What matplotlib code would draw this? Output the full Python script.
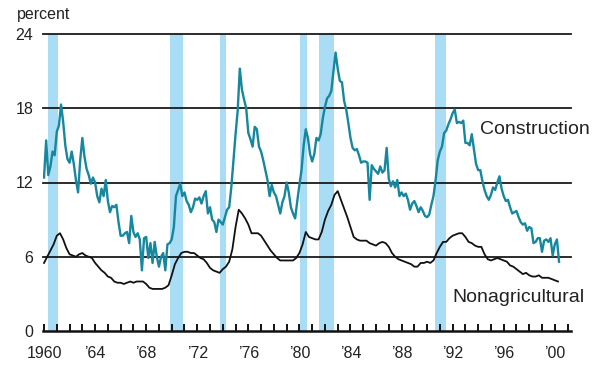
import numpy as np
import matplotlib
matplotlib.use("Agg")
import matplotlib.pyplot as plt

plt.rcParams['font.family'] = ['Liberation Sans', 'DejaVu Sans']

# construction unemployment rate, every two months from Jan 1960
construction = [
    12.4, 15.4, 12.6, 13.3, 14.5, 14.2, 16.1, 16.6, 18.3, 16.9, 15.0, 13.9,
    13.6, 14.5, 13.5, 12.2, 11.2, 13.8, 15.6, 14.1, 13.1, 12.6, 11.9, 12.4,
    12.0, 10.9, 10.4, 11.5, 10.9, 12.2, 10.5, 9.6, 10.1, 10.0, 10.2, 8.8,
    7.7, 7.7, 7.9, 8.0, 7.1, 9.3, 8.0, 7.6, 7.9, 7.4, 4.9, 7.5,
    7.6, 5.9, 7.1, 5.5, 7.2, 6.0, 5.2, 6.0, 6.3, 4.9, 7.0, 7.1,
    7.4, 8.4, 10.9, 11.4, 11.9, 10.9, 11.2, 10.5, 10.2, 9.6, 10.0, 10.7,
    10.6, 10.8, 10.3, 10.9, 11.3, 9.5, 10.0, 9.0, 8.8, 8.0, 9.0, 8.8,
    8.6, 9.2, 9.8, 10.0, 11.6, 13.8, 15.9, 17.8, 21.2, 19.5, 18.7, 18.0,
    16.0, 15.5, 14.9, 16.5, 16.3, 14.9, 14.5, 13.8, 13.0, 12.2, 10.9, 11.8,
    11.2, 10.9, 10.2, 9.5, 10.4, 10.9, 12.0, 11.2, 10.0, 9.5, 9.1, 10.5,
    11.8, 13.0, 15.0, 16.3, 15.6, 14.3, 13.7, 14.3, 15.6, 15.4, 15.9, 17.2,
    18.1, 18.8, 19.0, 19.4, 21.0, 22.5, 21.2, 20.2, 20.1, 18.6, 17.9, 16.8,
    15.6, 14.8, 14.6, 14.7, 14.2, 13.6, 13.7, 13.7, 13.6, 10.6, 13.4, 13.1,
    12.9, 12.7, 13.3, 12.8, 13.0, 14.8, 12.3, 11.7, 12.1, 11.6, 12.2, 10.9,
    11.2, 10.9, 11.1, 10.6, 9.8, 10.3, 10.5, 10.1, 9.6, 10.0, 9.7, 9.3,
    9.2, 9.4, 10.2, 10.9, 12.2, 13.8, 14.5, 14.9, 16.0, 16.2, 16.7, 17.1,
    17.6, 17.9, 16.8, 16.9, 16.8, 17.0, 15.2, 15.2, 15.0, 15.9, 14.7, 13.5,
    13.0, 13.0, 12.1, 11.4, 10.9, 10.6, 11.0, 11.6, 11.4, 12.0, 12.5, 11.5,
    10.9, 10.5, 10.6, 10.0, 9.5, 9.6, 9.7, 9.2, 8.8, 8.6, 8.7, 8.1,
    8.4, 8.3, 7.1, 7.2, 7.5, 7.5, 6.4, 7.3, 7.4, 7.2, 7.5, 6.1,
    7.0, 7.4, 5.6,
]

# nonagricultural unemployment rate, quarterly from 1960
nonag = [
    5.5, 6.0, 6.5, 7.0, 7.7, 7.9, 7.4, 6.7, 6.2, 6.1, 6.0, 6.2,
    6.3, 6.1, 6.0, 5.9, 5.5, 5.2, 4.9, 4.7, 4.4, 4.3, 4.0, 3.9,
    3.9, 3.8, 3.9, 4.0, 3.9, 4.0, 4.0, 4.0, 3.8, 3.5, 3.4, 3.4,
    3.4, 3.4, 3.5, 3.7, 4.5, 5.4, 5.9, 6.3, 6.4, 6.4, 6.3, 6.3,
    6.1, 5.9, 5.8, 5.5, 5.1, 4.9, 4.8, 4.7, 5.0, 5.2, 5.6, 6.6,
    8.4, 9.8, 9.5, 9.1, 8.6, 7.9, 7.9, 7.9, 7.7, 7.3, 6.9, 6.5,
    6.2, 5.9, 5.7, 5.7, 5.7, 5.7, 5.7, 5.9, 6.3, 7.0, 8.0, 7.6,
    7.5, 7.4, 7.4, 8.0, 9.0, 9.7, 10.2, 11.0, 11.3, 10.6, 9.9, 9.2,
    8.4, 7.6, 7.4, 7.3, 7.3, 7.3, 7.1, 7.0, 6.9, 7.1, 7.2, 7.1,
    6.8, 6.3, 6.0, 5.8, 5.7, 5.6, 5.5, 5.4, 5.2, 5.2, 5.5, 5.5,
    5.6, 5.5, 5.7, 6.3, 6.8, 7.2, 7.2, 7.5, 7.7, 7.8, 7.9, 7.9,
    7.6, 7.2, 7.1, 6.9, 6.8, 6.8, 6.2, 5.8, 5.7, 5.8, 5.9, 5.8,
    5.7, 5.6, 5.3, 5.2, 5.0, 4.8, 4.6, 4.7, 4.5, 4.4, 4.4, 4.5,
    4.3, 4.3, 4.3, 4.2, 4.1, 4.0,
]

# recessions (shaded)
rec_start = [1960.33, 1969.87, 1973.8, 1980.05, 1981.53, 1990.62]
rec_end = [1961.12, 1970.86, 1974.25, 1980.57, 1982.73, 1991.45]

yticks = [0, 6, 12, 18, 24]

con_years = 1960 + np.arange(len(construction)) / 6
non_years = 1960 + np.arange(len(nonag)) / 4

fig = plt.figure(figsize=(5.99, 3.71), dpi=100)
ax = fig.add_axes([43 / 599, 1 - 331 / 371, 528 / 599, 297 / 371])

for s, e in zip(rec_start, rec_end):
    ax.axvspan(s, e, color='#a9dcf5', lw=0, zorder=1)

for y in yticks[1:]:
    ax.axhline(y, color='#1a1a1a', lw=1.3, zorder=1.5, clip_on=False)

ax.plot(con_years, construction, color='#15879f', lw=1.7, zorder=3)
ax.plot(non_years, nonag, color='#111111', lw=1.3, zorder=3)

ax.set_xlim(1959.92, 2001.27)
ax.set_ylim(0, 24)

years = list(range(1960, 2002))
labels = []
for yr in years:
    if yr == 1960:
        labels.append('1960')
    elif yr % 4 == 0:
        labels.append('\u2019' + str(yr)[2:])
    else:
        labels.append('')
ax.set_xticks(years)
ax.set_xticklabels(labels, fontsize=11.5, color='#222222')
ax.tick_params(axis='x', direction='in', length=5, width=1.4, pad=11, color='#111111')

ax.set_yticks(yticks)
ax.set_yticklabels([str(v) for v in yticks], fontsize=11.5, color='#222222')
ax.tick_params(axis='y', length=0, pad=7)

for side in ['left', 'right', 'top']:
    ax.spines[side].set_visible(False)
ax.spines['bottom'].set_linewidth(1.8)
ax.spines['bottom'].set_color('#111111')

fig.text(17 / 599, 1 - 15 / 371, 'percent', fontsize=11.5, color='#222222', va='center', ha='left')
fig.text(480 / 599, 1 - 130 / 371, 'Construction', fontsize=14, color='#222222', va='center', ha='left')
fig.text(452 / 599, 1 - 297 / 371, 'Nonagricultural', fontsize=14, color='#222222', va='center', ha='left')

fig.savefig('out.png', dpi=100)
